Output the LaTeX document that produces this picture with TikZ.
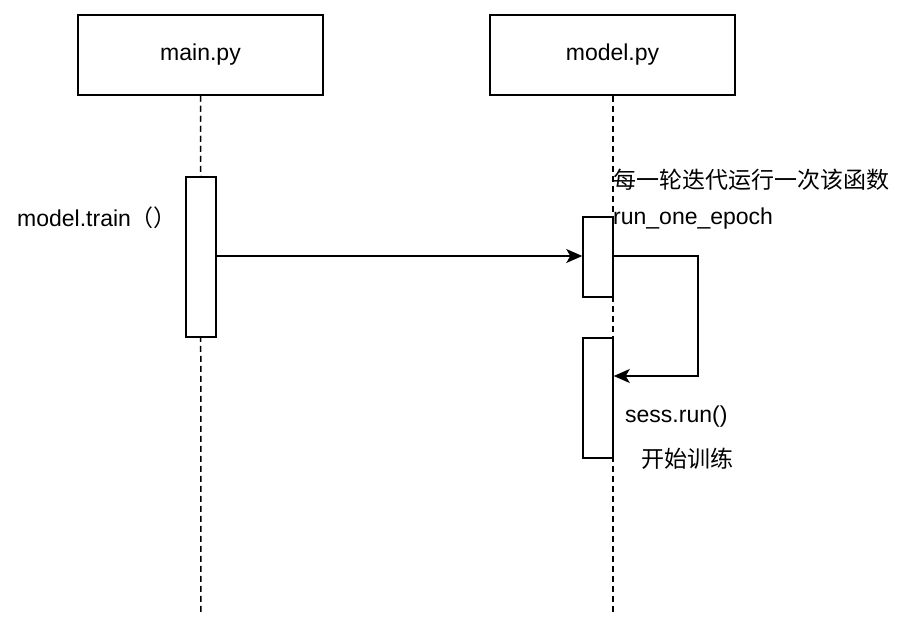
\documentclass[tikz,border=0pt]{standalone}
\usepackage{fontspec}
\setmainfont{Liberation Sans}
\newfontfamily\cjk{Noto Sans CJK SC}
\usetikzlibrary{arrows.meta,positioning}

\tikzset{
	obj/.style={draw, line width=1.5pt, minimum width=245pt, minimum height=80pt, font=\fontsize{23}{27}\selectfont},
	act/.style={draw, line width=1.5pt, fill=white, minimum width=30pt, anchor=north},
	life/.style={line width=1.5pt, dash pattern=on 6pt off 4pt},
	msg/.style={line width=1.5pt, -{Triangle[length=16pt,width=14pt,inset=4pt]}},
	lbl/.style={font=\fontsize{23}{27}\selectfont, inner sep=0pt},
}

\begin{document}
\begin{tikzpicture}[x=1pt, y=-1pt]
	\useasboundingbox (0,0) rectangle (919,634);
	% objects
	\node[obj] (main) at (200.5,55) {main.py};
	\node[obj] (model) at (612.5,55) {model.py};
	% lifelines
	\coordinate (mainend) at (201,615);
	\coordinate (modelend) at (613,615);
	\draw[life] (main.south) -- (mainend);
	\draw[life] (model.south -| modelend) -- (modelend);
	% activations
	\node[act, minimum height=160pt] (train) at (201,176) {};
	\node[act, minimum height=80pt] (epoch) at (598,216) {};
	\node[act, minimum height=120pt] (sess) at (598,337) {};
	% messages
	\coordinate (turn1) at (698,256);
	\coordinate (turn2) at (698,376);
	\draw[msg] (train.east |- 0,256) -- (epoch.west |- 0,256);
	\draw[msg] (epoch.east |- 0,256) -- (turn1) -- (turn2) -- (sess.east |- turn2);
	% labels
	\node[lbl, anchor=west] (trainlbl) at (17,218) {model.train{\cjk（）}};
	\node[lbl, anchor=west] (desc) at (613,180) {\cjk 每一轮迭代运行一次该函数};
	\node[lbl, anchor=west] (epochlbl) at (613,219) {run\_one\_epoch};
	\node[lbl, anchor=west] (sesslbl) at (625,417) {sess.run()};
	\node[lbl, anchor=west] (startlbl) at (641,459) {\cjk 开始训练};
\end{tikzpicture}
\end{document}
